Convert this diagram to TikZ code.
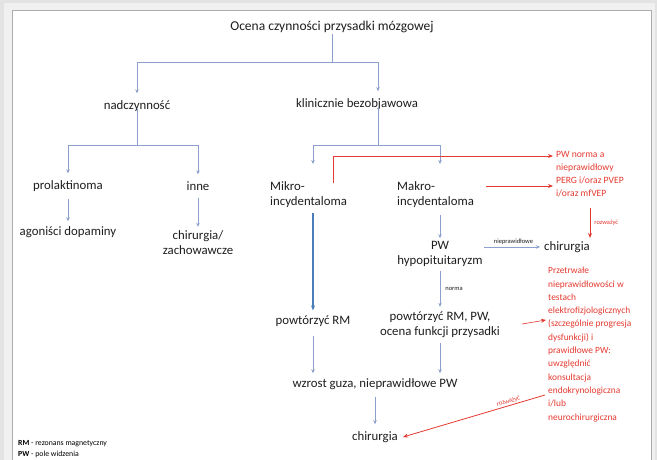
\documentclass[tikz,border=0pt]{standalone}
\usepackage{fontspec}
\setmainfont{Carlito}
\usetikzlibrary{arrows.meta,calc}
\definecolor{arrowc}{RGB}{140,160,205}
\definecolor{bluec}{RGB}{74,126,187}
\definecolor{redc}{RGB}{228,58,48}
\definecolor{txtc}{RGB}{30,30,30}
\tikzset{
  txt/.style={font=\fontsize{12.8}{15}\selectfont, align=center, inner sep=1pt, text=txtc},
  ln/.style={draw=arrowc, line width=0.7pt},
  arr/.style={ln, -{Stealth[length=4pt,width=3.5pt]}},
  barr/.style={draw=bluec, line width=1.3pt, -{Stealth[length=5pt,width=4pt]}},
  rarr/.style={draw=redc, color=redc, line width=0.8pt, -{Stealth[length=5pt,width=4pt]}},
  redtxt/.style={text=redc, font=\fontsize{9.6}{13}\selectfont, align=left, anchor=north west, inner sep=0pt},
  lbl/.style={font=\fontsize{6.5}{7.5}\selectfont, inner sep=1pt},
}
\begin{document}
\begin{tikzpicture}[x=1pt,y=-1pt]
\useasboundingbox (0,0) rectangle (657,460);
\fill[gray!22] (0,0) rectangle (657,460);
\fill[gray!12] (4,3) rectangle (655,460);
\filldraw[fill=white, draw=gray!65, line width=0.8pt] (12,10) rectangle (651,470);

% nodes
\node[txt, font=\fontsize{13.5}{16}\selectfont] (title) at (332,27) {Ocena czynności przysadki mózgowej};
\node[txt] (nad) at (137,106) {nadczynność};
\node[txt] (kb) at (357,104) {klinicznie bezobjawowa};
\node[txt] (prl) at (68,186) {prolaktinoma};
\node[txt] (inne) at (198,186) {inne};
\node[txt] (ago) at (68,232) {agoniści dopaminy};
\node[txt] (chz) at (198,243) {chirurgia/\\zachowawcze};
\node[txt, align=left, anchor=west] (mikro) at (269,195) {Mikro-\\incydentaloma};
\node[txt, align=left, anchor=west] (makro) at (396,195) {Makro-\\incydentaloma};
\node[redtxt] (pwn) at (556,151) {PW norma a\\nieprawidłowy\\PERG i/oraz PVEP\\i/oraz mfVEP};
\node[txt] (chir1) at (567,247) {chirurgia};
\node[txt] (pw) at (440,254) {PW\\hypopituitaryzm};
\node[txt] (pow1) at (313,321) {powtórzyć RM};
\node[txt] (pow2) at (440,325) {powtórzyć RM, PW,\\ocena funkcji przysadki};
\node[redtxt, font=\fontsize{9.4}{13.3}\selectfont] (prz) at (548,267) {Przetrwałe\\nieprawidłowości w\\testach\\elektrofizjologicznych\\(szczególnie progresja\\dysfunkcji) i\\prawidłowe PW:\\uwzględnić\\konsultacja\\endokrynologiczna\\i/lub\\neurochirurgiczna};
\node[txt] (wz) at (375,384) {wzrost guza, nieprawidłowe PW};
\node[txt] (chir2) at (375,437) {chirurgia};
\node[anchor=west, font=\fontsize{7.8}{9}\selectfont, inner sep=0pt] (leg1) at (18,444) {\textbf{RM} - rezonans magnetyczny};
\node[anchor=west, font=\fontsize{7.8}{9}\selectfont, inner sep=0pt] (leg2) at (18,454) {\textbf{PW} - pole widzenia};

% connectors top
\coordinate (j1) at (332,62);
\draw[ln] (title.south) -- (j1);
\draw[arr, shorten >=6pt] (j1) -| (nad.north);
\draw[arr, shorten >=6pt] (j1) -| ([xshift=21pt]kb.north);

\coordinate (j2) at (137,145);
\draw[ln] ([yshift=4pt]nad.south) -- (j2);
\draw[arr, shorten >=6pt] (j2) -| (prl.north);
\draw[arr, shorten >=6pt] (j2) -| (inne.north);
\draw[arr, shorten <=6pt, shorten >=4pt] (prl.south) -- (ago.north);
\draw[arr, shorten <=6pt, shorten >=3pt] (inne.south) -- (inne.south |- chz.north);

\coordinate (j3) at (378,145);
\draw[ln] ([xshift=21pt,yshift=4pt]kb.south) -- (j3);
\draw[arr, shorten >=6pt] (j3) -| (313,170);
\draw[arr, shorten >=6pt] (j3) -| (440,170);

% red connectors
\coordinate (rs) at (333,183);
\coordinate (r1e) at (553,156);
\coordinate (r2s) at (486,186);
\coordinate (r2e) at (553,186);
\draw[rarr] (rs) |- (r1e);
\draw[rarr] (r2s) -- (r2e);
\draw[rarr] (590,208) -- node[right, lbl, text=redc, xshift=3pt] {rozważyć} (590,238);

% makro branch
\draw[arr, shorten <=3pt, shorten >=2pt] (440,212) -- (pw.north);
\coordinate (pwe) at (484,247);
\draw[arr, shorten >=3pt] (pwe) -- node[above, lbl, text=txtc, yshift=1pt] {nieprawidłowe} (chir1.west);
\draw[arr, shorten <=3pt, shorten >=4pt] (pw.south) -- node[right, lbl, text=txtc, xshift=4pt] {norma} (pow2.north);
\coordinate (r3s) at (522,324);
\coordinate (r3e) at (546,320);
\draw[rarr, line width=0.6pt] (r3s) -- (r3e);

% mikro branch
\draw[barr, shorten >=4pt] (313,213) -- (pow1.north);
\draw[arr, shorten <=8pt, shorten >=4pt] (pow1.south) -- (pow1.south |- wz.north);
\draw[arr, shorten <=4pt, shorten >=4pt] (pow2.south) -- (pow2.south |- wz.north);
\draw[arr, shorten <=6pt, shorten >=6pt] (wz.south) -- (chir2.north);
\coordinate (r4s) at (545,395);
\draw[rarr] (r4s) -- node[above, sloped, lbl, text=redc, pos=0.25] {rozważyć} ([xshift=4pt]chir2.east);
\end{tikzpicture}
\end{document}
